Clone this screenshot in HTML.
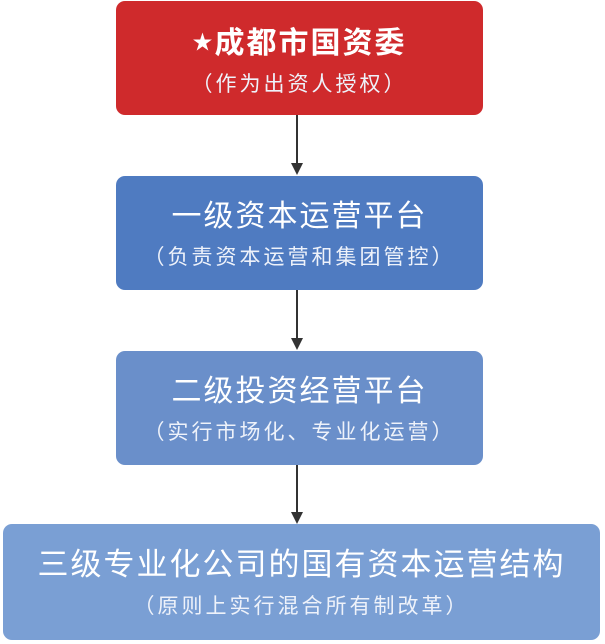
<!DOCTYPE html>
<html><head><meta charset="utf-8"><style>
body{margin:0;width:605px;height:644px;background:#fff;position:relative;overflow:hidden;font-family:"Liberation Sans","Noto Sans CJK SC",sans-serif;}
.b{position:absolute;border-radius:9px;color:#fff;text-align:center;}
.t{position:absolute;left:0;right:0;font-size:30px;line-height:36px;letter-spacing:2px;}
.s{position:absolute;left:0;right:0;font-size:21px;line-height:26px;letter-spacing:3px;color:#eef2fa;}
.ln{position:absolute;left:296px;width:2px;background:#333;}
.ah{position:absolute;left:291px;width:0;height:0;border-left:6px solid transparent;border-right:6px solid transparent;border-top:12px solid #333;}
</style></head><body>
<div class="b" style="left:116px;top:1px;width:367px;height:114px;background:#cf2a2c;">
<div class="t" style="top:24px;font-weight:bold;"><span style="font-size:20px;vertical-align:4px">★</span>成都市国资委</div>
<div class="s" style="top:71px;">（作为出资人授权）</div></div>
<div class="ln" style="top:115px;height:48px"></div><div class="ah" style="top:163px"></div>
<div class="b" style="left:116px;top:176px;width:367px;height:114px;background:#4f7bc1;">
<div class="t" style="top:23px;">一级资本运营平台</div>
<div class="s" style="top:69px;">（负责资本运营和集团管控）</div></div>
<div class="ln" style="top:290px;height:48px"></div><div class="ah" style="top:338px"></div>
<div class="b" style="left:116px;top:351px;width:367px;height:114px;background:#6a8fca;">
<div class="t" style="top:23px;">二级投资经营平台</div>
<div class="s" style="top:69px;">（实行市场化、专业化运营）</div></div>
<div class="ln" style="top:465px;height:47px"></div><div class="ah" style="top:512px"></div>
<div class="b" style="left:3px;top:524px;width:597px;height:116px;background:#7a9fd4;">
<div class="t" style="top:23px;font-size:31px;">三级专业化公司的国有资本运营结构</div>
<div class="s" style="top:70px;">（原则上实行混合所有制改革）</div></div>
</body></html>
